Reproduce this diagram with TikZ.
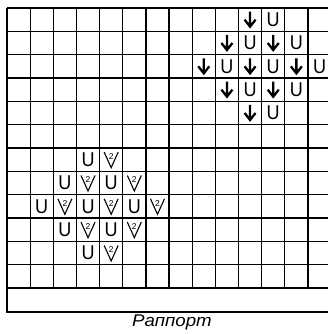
\documentclass[tikz,border=0pt]{standalone}
\usepackage{fontspec}
\setmainfont{Liberation Sans}
\begin{document}
\begin{tikzpicture}[
    x=1pt, y=-1pt,
    grid line/.style={line width=1.3pt},
    loop sign/.style={inner sep=0pt, font=\fontsize{20}{20}\selectfont, xscale=0.9},
    drop sign/.style={line width=2.3pt},
    dec sign/.style={line width=1.1pt, line join=miter},
    dec num/.style={inner sep=0pt, font=\fontsize{8.5}{8.5}\selectfont},
    caption/.style={inner sep=0pt, font=\fontsize{17}{17}\selectfont\itshape, xscale=1.1}
]
\useasboundingbox (0,0) rectangle (328,334);
\clip (0,0) rectangle (328,334);
% grid
\foreach \i in {0,...,14}
    \draw[grid line] ({7+23.15*\i},8) -- ({7+23.15*\i},288);
\foreach \j in {0,...,12}
    \draw[grid line] (7,{8+23.33*\j}) -- (333,{8+23.33*\j});
\draw[grid line] (7,288) -- (7,312) -- (333,312);
% upper motif: arrow and loop
\foreach \r/\c in {0/10,1/9,1/11,2/8,2/10,2/12,3/9,3/11,4/10} {
    \draw[drop sign, shift={({7+23.15*(\c+0.5)},{8+23.33*(\r+0.5)})}]
        (0,-8) -- (0,7) (-5.5,0) -- (0,7) -- (5.5,0);
    \node[loop sign] (up-\r-\c) at ({7+23.15*(\c+1.5)},{8+23.33*(\r+0.5)}) {U};
}
% lower motif: loop and two together
\foreach \r/\c in {6/3,7/2,7/4,8/1,8/3,8/5,9/2,9/4,10/3} {
    \node[loop sign] (lo-\r-\c) at ({7+23.15*(\c+0.5)},{8+23.33*(\r+0.5)}) {U};
    \draw[dec sign, shift={({7+23.15*(\c+1.5)},{8+23.33*(\r+0.5)})}]
        (-7,-7.5) -- (0,8) -- (7,-7.5);
    \node[dec num] (two-\r-\c) at ({7+23.15*(\c+1.5)},{8+23.33*(\r+0.5)-3}) {2};
}
\node[caption] (rapport) at (172,322.5) {Раппорт};
\end{tikzpicture}
\end{document}
